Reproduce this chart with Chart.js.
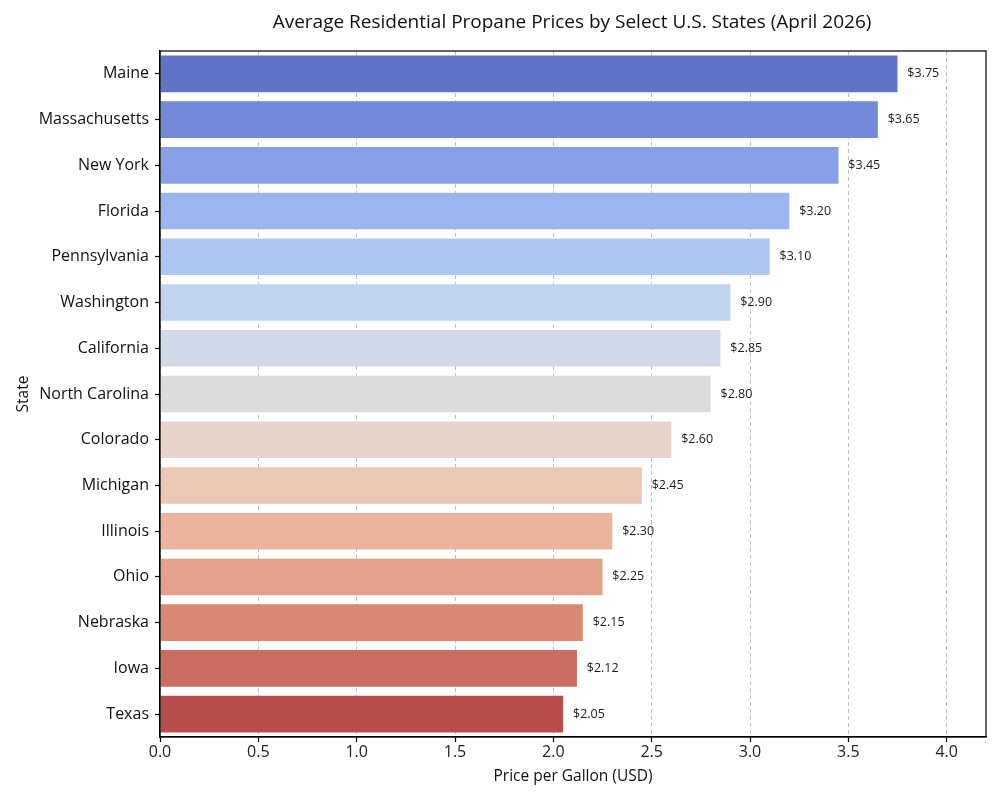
<!DOCTYPE html>
<html>
<head>
<meta charset="utf-8">
<script src="https://cdn.jsdelivr.net/npm/chart.js@4.4.1/dist/chart.umd.min.js"></script>
<style>
  html, body { margin: 0; padding: 0; background: #ffffff; }
  #wrap { width: 1000px; height: 800px; position: relative; }
</style>
</head>
<body>
<div id="wrap"><canvas id="c" width="1000" height="800"></canvas></div>
<script>
const states = ["Maine", "Massachusetts", "New York", "Florida", "Pennsylvania", "Washington", "California", "North Carolina", "Colorado", "Michigan", "Illinois", "Ohio", "Nebraska", "Iowa", "Texas"];
const prices = [3.75, 3.65, 3.45, 3.20, 3.10, 2.90, 2.85, 2.80, 2.60, 2.45, 2.30, 2.25, 2.15, 2.12, 2.05];
const barColors = ["#6074c7", "#7389d9", "#88a0e6", "#9cb4ef", "#afc6f3", "#c1d3f1", "#d1dae8", "#dcdcdc", "#e7d5cc", "#ecc7b5", "#ecb49d", "#e3a08a", "#d98873", "#cb6c60", "#b84d4b"];
const xTicks = [0, 0.5, 1.0, 1.5, 2.0, 2.5, 3.0, 3.5, 4.0];
const titleText = "Average Residential Propane Prices by Select U.S. States (April 2026)";
const xTitle = "Price per Gallon (USD)";
const yTitle = "State";

const FONT = "'Open Sans', sans-serif";

const overlay = {
  id: 'overlay',
  afterDatasetsDraw(chart) {
    const ctx = chart.ctx;
    const a = chart.chartArea;
    const xs = chart.scales.x;
    const ys = chart.scales.y;
    ctx.save();
    // frame
    ctx.setLineDash([]);
    ctx.strokeStyle = '#000';
    ctx.lineWidth = 1.2;
    ctx.strokeRect(a.left, a.top, a.right - a.left, a.bottom - a.top);
    // value labels
    ctx.fillStyle = '#1a1a1a';
    ctx.font = '12.5px ' + FONT;
    ctx.textAlign = 'left';
    ctx.textBaseline = 'middle';
    prices.forEach((v, i) => {
      const x = xs.getPixelForValue(v + 0.05);
      const y = ys.getPixelForValue(i);
      ctx.fillText('$' + v.toFixed(2), x, y);
    });
    // title
    ctx.font = '19px ' + FONT;
    ctx.textAlign = 'center';
    ctx.fillStyle = '#111';
    ctx.fillText(titleText, (a.left + a.right) / 2 - 1, 23);
    ctx.restore();
  }
};

new Chart(document.getElementById('c'), {
  type: 'bar',
  data: {
    labels: states,
    datasets: [{
      data: prices,
      backgroundColor: barColors,
      borderWidth: 0,
      barPercentage: 0.8,
      categoryPercentage: 1.0
    }]
  },
  options: {
    indexAxis: 'y',
    responsive: false,
    animation: false,
    devicePixelRatio: 1,
    layout: { padding: { top: 51, right: 14, left: 14, bottom: 14 } },
    plugins: {
      legend: { display: false },
      tooltip: { enabled: false },
      title: { display: false }
    },
    scales: {
      x: {
        type: 'linear',
        min: 0,
        max: 4.2,
        afterBuildTicks(scale) { scale.ticks = xTicks.map(v => ({ value: v })); },
        afterFit(scale) { scale.height = 49; },
        ticks: {
          color: '#222',
          font: { size: 16, family: FONT },
          padding: 1,
          maxRotation: 0,
          callback: v => Number(v).toFixed(1)
        },
        grid: {
          color: 'rgba(170,170,170,0.75)',
          lineWidth: 1,
          drawTicks: true,
          tickLength: 5,
          tickColor: '#000',
          tickBorderDash: [],
          tickWidth: 1.2
        },
        border: { display: true, color: '#000', width: 1.2, dash: [4, 3] },
        title: {
          display: true,
          text: xTitle,
          color: '#111',
          font: { size: 15.5, family: FONT },
          padding: { top: 0, bottom: 0 }
        }
      },
      y: {
        type: 'category',
        afterFit(scale) { scale.width = 146; },
        ticks: {
          color: '#111',
          font: { size: 16, family: FONT },
          padding: 6,
          autoSkip: false
        },
        grid: {
          drawOnChartArea: false,
          drawTicks: true,
          tickLength: 5,
          tickColor: '#000',
          tickWidth: 1.2,
          offset: false
        },
        border: { display: true, color: '#000', width: 1.2 },
        title: {
          display: true,
          text: yTitle,
          color: '#111',
          font: { size: 15.5, family: FONT },
          padding: { top: 0, bottom: 0 }
        }
      }
    }
  },
  plugins: [overlay]
});
</script>
</body>
</html>
